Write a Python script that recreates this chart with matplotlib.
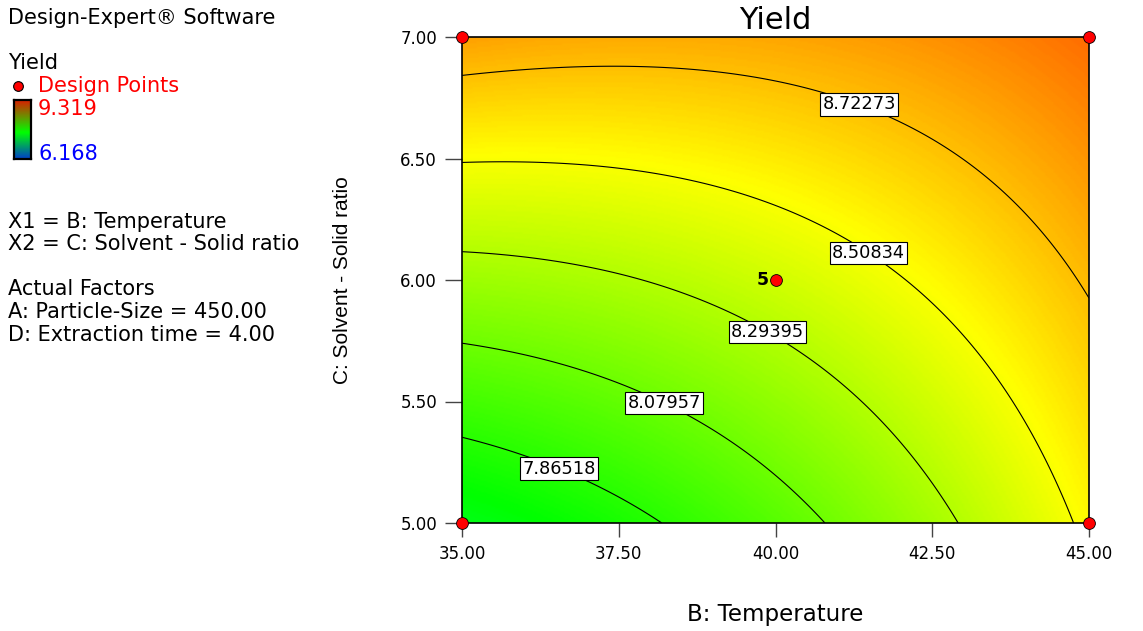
import numpy as np
import matplotlib
matplotlib.use('Agg')
import matplotlib.pyplot as plt
from matplotlib.colors import LinearSegmentedColormap

# factor ranges (actual units)
temp_range = [35.0, 45.0]
ratio_range = [5.0, 7.0]

# fitted quadratic model, coded units: intercept, B, C, BC, B^2, C^2
b0 = 8.385
bB = 0.256
bC = 0.396
bBC = -0.176
bBB = 0.098
bCC = 0.020

contour_levels = [7.86518, 8.07957, 8.29395, 8.50834, 8.72273]
yield_min, yield_max = 6.168, 9.319

# design points on this slice
design_temp = [35, 35, 45, 45, 40]
design_ratio = [5, 7, 5, 7, 6]
center_reps = 5

xticks = [35.0, 37.5, 40.0, 42.5, 45.0]
yticks = [5.0, 5.5, 6.0, 6.5, 7.0]

side_text = [
    ("Design-Expert\u00ae Software", 18, "black"),
    ("Yield", 63, "black"),
    ("Design Points", 86, "red"),
    ("9.319", 109, "red"),
    ("6.168", 154, "blue"),
    ("X1 = B: Temperature", 222, "black"),
    ("X2 = C: Solvent - Solid ratio", 244, "black"),
    ("Actual Factors", 289, "black"),
    ("A: Particle-Size = 450.00", 312, "black"),
    ("D: Extraction time = 4.00", 335, "black"),
]

W, H = 1143, 631
def fx(px):
    return px / W
def fy(py):
    return 1 - py / H

de_cmap = LinearSegmentedColormap.from_list(
    "de", [(0.0, "#0000ff"), (0.25, "#00ffff"), (0.5, "#00ff00"),
           (0.75, "#ffff00"), (1.0, "#ff0000")])
key_cmap = LinearSegmentedColormap.from_list(
    "key", [(0.0, "#0040c8"), (0.45, "#00ff00"), (1.0, "#d82000")])

fig = plt.figure(figsize=(W / 100, H / 100), dpi=100)
ax = fig.add_axes([fx(462), fy(523), (1089 - 462) / W, (523 - 37) / H])

tb = np.linspace(temp_range[0], temp_range[1], 301)
rc = np.linspace(ratio_range[0], ratio_range[1], 301)
TB, RC = np.meshgrid(tb, rc)
x1 = (TB - 40.0) / 5.0
x2 = (RC - 6.0) / 1.0
Z = b0 + bB * x1 + bC * x2 + bBC * x1 * x2 + bBB * x1 ** 2 + bCC * x2 ** 2

ax.imshow(Z, extent=[35, 45, 5, 7], origin='lower', aspect='auto',
          cmap=de_cmap, vmin=yield_min, vmax=yield_max, interpolation='bilinear')
cs = ax.contour(TB, RC, Z, levels=contour_levels, colors='black', linewidths=0.8)

label_pos = [(36.6, 5.26), (38.25, 5.51), (39.9, 5.80), (41.5, 6.12), (41.4, 6.77)]
labels = ax.clabel(cs, fmt='%.5f', manual=label_pos, inline=False, fontsize=12.8)
for t in labels:
    t.set_rotation(0)
    t.set_color('black')
    t.set_bbox(dict(boxstyle='square,pad=0.12', fc='white', ec='black', lw=0.8))
    t.set_zorder(4)

ax.plot(design_temp, design_ratio, 'o', ms=8.5, mfc='red', mec='black', mew=0.6,
        clip_on=False, zorder=6)
ax.annotate(str(center_reps), (40, 6), xytext=(-5, 0), textcoords='offset points',
            ha='right', va='center', fontsize=12.5, fontweight='bold')

ax.set_xlim(35, 45)
ax.set_ylim(5, 7)
ax.set_xticks(xticks)
ax.set_xticklabels(['%.2f' % v for v in xticks])
ax.set_yticks(yticks)
ax.set_yticklabels(['%.2f' % v for v in yticks])
ax.tick_params(axis='x', direction='out', length=10, width=1, color='#444444',
               pad=6, labelsize=12)
ax.tick_params(axis='y', direction='out', length=12, width=1, color='#444444',
               pad=6, labelsize=12)
for s in ax.spines.values():
    s.set_linewidth(1.2)

ax.set_title('Yield', fontsize=22, pad=6)
ax.set_xlabel('B: Temperature', fontsize=16.5)
ax.xaxis.set_label_coords(0.5, (523 - 615) / 486)
ax.xaxis.label.set_va('center')
ax.set_ylabel('C: Solvent - Solid ratio', fontsize=15, family='Liberation Sans')
ax.yaxis.set_label_coords((343 - 462) / 627, 0.5)
ax.yaxis.label.set_va('center')

# side panel
for txt, py, col in side_text:
    x = 38 if txt in ("Design Points", "9.319", "6.168") else 8
    fig.text(fx(x), fy(py), txt, fontsize=15, color=col, va='center', ha='left')

fig.lines.append(plt.Line2D([fx(18)], [fy(86)], marker='o', ms=7, mfc='red',
                            mec='black', mew=0.8, transform=fig.transFigure))

kax = fig.add_axes([fx(14), fy(159), 17 / W, 59 / H])
kax.imshow(np.linspace(0, 1, 100).reshape(-1, 1), cmap=key_cmap, aspect='auto',
           origin='lower')
kax.set_xticks([])
kax.set_yticks([])
for s in kax.spines.values():
    s.set_linewidth(1.6)

fig.savefig('out.png', dpi=100)
plt.close()
